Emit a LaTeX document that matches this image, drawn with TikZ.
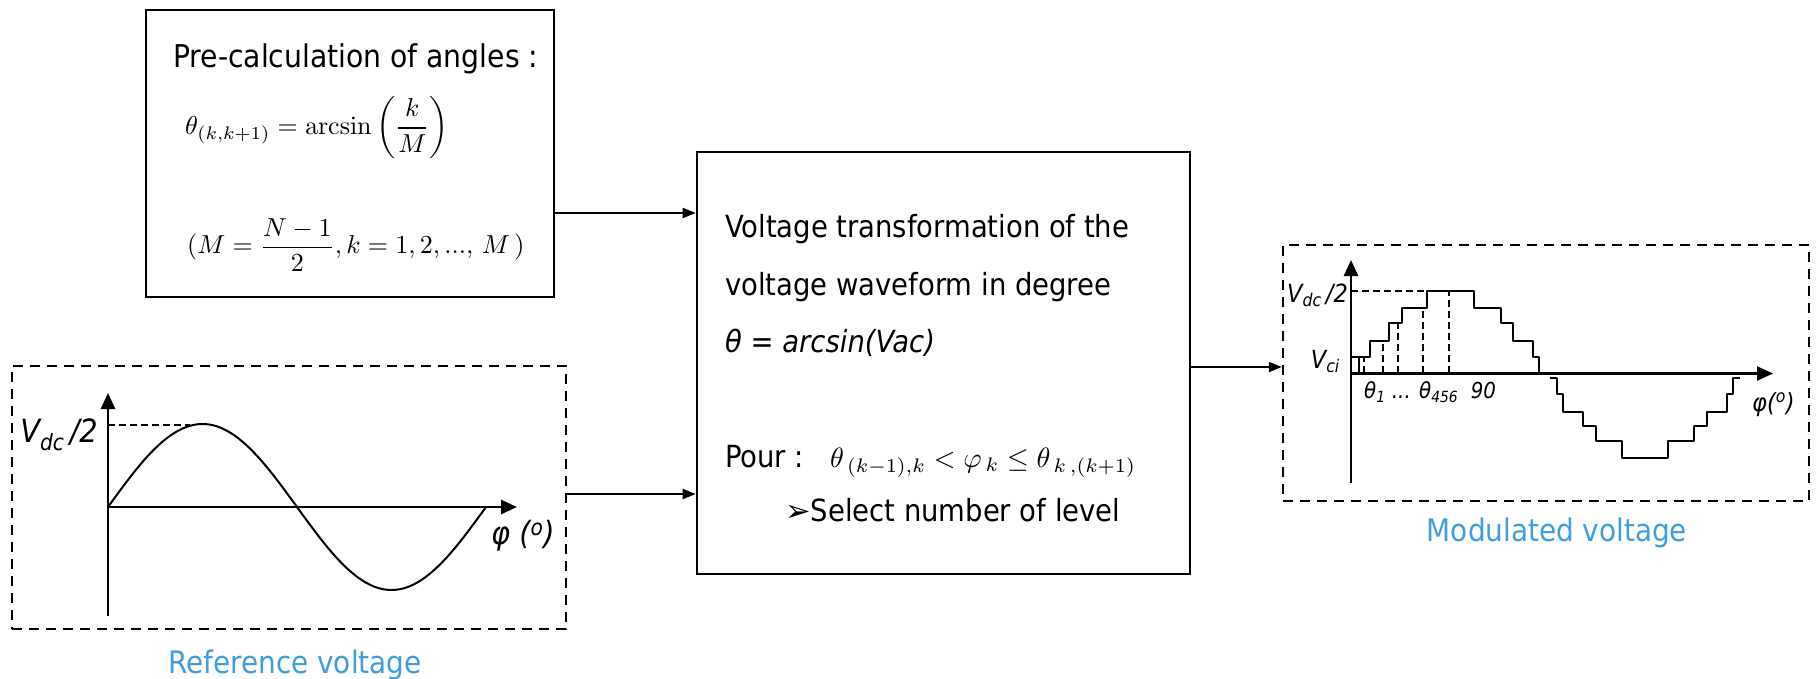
\documentclass[tikz,border=0pt]{standalone}
\usepackage{amsmath}
\usepackage[no-math]{fontspec}
\setmainfont{DejaVu Sans Condensed}[ItalicFont={DejaVu Sans Condensed Oblique}]
\newfontfamily\symfont{DejaVu Sans}
\usetikzlibrary{arrows.meta}
\definecolor{labblue}{RGB}{66,157,222}
\newcommand\fTitle{\fontsize{31.4}{38}\selectfont}
\newcommand\fBody{\fontsize{30.5}{36}\selectfont}
\newcommand\fLabL{\fontsize{32}{38}\selectfont}
\newcommand\fLabR{\fontsize{25}{30}\selectfont}
\newcommand\fTick{\fontsize{22}{26}\selectfont}
\newcommand\fCap{\fontsize{31}{36}\selectfont}
\newcommand\degsign{\textsuperscript{o}}
\tikzset{
  solidbox/.style={draw, line width=2.6pt, inner sep=0pt},
  dashbox/.style={draw, line width=2.4pt, dash pattern=on 10pt off 7pt, inner sep=0pt},
  conn/.style={line width=2pt, -{Triangle[length=13pt,width=10pt]}},
  axisarrow/.style={line width=2.6pt, -{Triangle[length=16pt,width=14pt]}},
  curve/.style={line width=2pt, line join=round},
  guide/.style={line width=1.6pt, dash pattern=on 7pt off 4pt},
  txt/.style={inner sep=0pt, anchor=base west},
  capt/.style={inner sep=0pt, anchor=base, text=labblue, font=\fCap},
}
\begin{document}
\begin{tikzpicture}[x=1pt,y=-1pt]
\useasboundingbox (0,0) rectangle (1818,678);

% boxes
\node[solidbox, minimum width=408pt, minimum height=287pt] (calc) at (350,153.5) {};
\node[solidbox, minimum width=493pt, minimum height=422pt] (transf) at (943.5,363) {};
\node[dashbox, minimum width=554pt, minimum height=263pt] (refbox) at (289,497.5) {};
\node[dashbox, minimum width=526pt, minimum height=256pt] (modbox) at (1546,373) {};

% connectors
\coordinate (ya) at (0,213);
\coordinate (yb) at (0,494);
\coordinate (yc) at (0,367);
\draw[conn] (calc.east |- ya) -- (transf.west |- ya);
\draw[conn] (refbox.east |- yb) -- (transf.west |- yb);
\draw[conn] (transf.east |- yc) -- (modbox.west |- yc);

% top box text
\node[txt, font=\fTitle] (pre) at (173,67) {Pre-calculation of angles :};
\node[inner sep=0pt, anchor=west] (f1) at (185,128)
  {\scalebox{2.6}{$\theta_{(k,k+1)}=\arcsin\left(\dfrac{k}{M}\right)$}};
\node[inner sep=0pt, anchor=west] (f2) at (187,245)
  {\scalebox{2.6}{$(M=\dfrac{N-1}{2},k=1,2,...,\,M\,)$}};

% middle box text
\node[txt, font=\fBody] (l1) at (725,237) {Voltage transformation of the};
\node[txt, font=\fBody] (l2) at (725,295) {voltage waveform in degree};
\node[txt, font=\fBody] (l3) at (725,352) {\itshape θ = arcsin(Vac)};
\node[txt, font=\fBody] (pour) at (725,467) {Pour :};
\node[txt] (cond) at (830,467)
  {\scalebox{2.8}{$\theta_{\,(k-1),k}<\varphi_{\,k}\le\theta_{\,k\,,(k+1)}$}};
\node[txt, font=\fBody] (sel) at (785,521) {{\symfont ➢}Select number of level};

% reference voltage plot
\draw[axisarrow] (108,616) -- (108,393);
\draw[axisarrow] (108,507) -- (517,507);
\draw[guide] (108,425) -- (190,425);
\draw[curve] plot[domain=0:360, samples=120, smooth] ({108+\x*1.05},{507-83*sin(\x)});
\node[inner sep=0pt, anchor=base east, font=\fLabL] (vdcl) at (98,442)
  {\itshape V\textsubscript{dc}\,/2};
\node[inner sep=0pt, anchor=west, font=\fLabL] (phil) at (491,536) {\itshape φ (\degsign)};
\node[capt] (refcap) at (295,673) {Reference voltage};

% modulated voltage plot
\draw[axisarrow] (1351,483) -- (1351,260);
\draw[axisarrow] (1351,373.5) -- (1773,373.5);
\draw[guide] (1351,291) -- (1427,291);
\draw[guide] (1364,373) -- (1364,357);
\draw[guide] (1383,373) -- (1383,341);
\draw[guide] (1398,373) -- (1398,323);
\draw[guide] (1423,373) -- (1423,308);
\draw[guide] (1449,373) -- (1449,291);
\draw[curve] (1359,373) -- (1359,357);
\draw[curve] (1351,357) -- (1370,357) -- (1370,341) -- (1389,341) -- (1389,323)
  -- (1402,323) -- (1402,308) -- (1427,308) -- (1427,291) -- (1474,291)
  -- (1474,308) -- (1501,308) -- (1501,323) -- (1513,323) -- (1513,341)
  -- (1533,341) -- (1533,357) -- (1539,357) -- (1539,373);
\draw[curve] (1550,378) -- (1557,378) -- (1557,394) -- (1563,394) -- (1563,412)
  -- (1583,412) -- (1583,426) -- (1596,426) -- (1596,441) -- (1622,441)
  -- (1622,458) -- (1668,458) -- (1668,441) -- (1694,441) -- (1694,426)
  -- (1707,426) -- (1707,412) -- (1727,412) -- (1727,394) -- (1733,394)
  -- (1733,378) -- (1740,378);
\node[inner sep=0pt, anchor=base east, font=\fLabR] (vdcr) at (1348,302)
  {\itshape V\textsubscript{dc}\,/2};
\node[inner sep=0pt, anchor=base east, font=\fLabR] (vci) at (1340,368)
  {\itshape V\textsubscript{ci}};
\node[txt, font=\fTick] (ticks) at (1364,398)
  {\itshape θ\textsubscript{1} ... θ\textsubscript{456}\ \ 90};
\node[inner sep=0pt, anchor=west, font=\fLabR] (phir) at (1752,405) {\itshape φ(\degsign)};
\node[capt] (modcap) at (1557,541) {Modulated voltage};
\end{tikzpicture}
\end{document}
